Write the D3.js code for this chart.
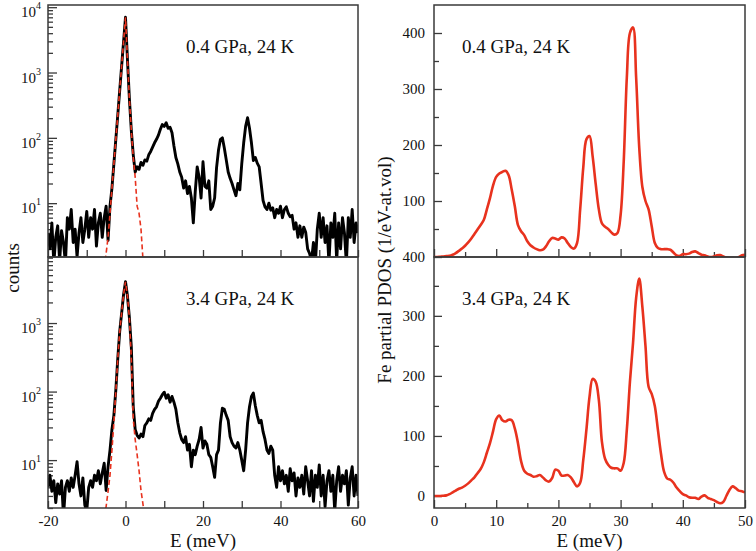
<!DOCTYPE html>
<html><head><meta charset="utf-8">
<script src="https://cdn.jsdelivr.net/npm/d3@7"></script>
<style>html,body{margin:0;padding:0;background:#fff}svg{display:block}</style>
</head><body><svg id="c" width="756" height="551"></svg>
<script>
// ---------------- DATA ----------------
// Left panels: NRIXS counts vs E (meV), sampled every 0.5 meV from -20 to 60
const countsEnergy = d3.range(0, 161).map(i => -20 + i * 0.5);
const countsLow = [ // 0.4 GPa, 24 K
  3.5, 2, 5, 1.2, 3, 4.5, 1.3, 3.8, 2.5, 1.2,
  6, 4, 8, 2.5, 4, 1.5, 3.5, 6, 2.5, 4,
  7.5, 3, 6, 4, 8, 2.2, 5, 7, 3, 6,
  9, 2.7, 9, 17, 40, 95, 220, 530, 1250, 2950,
  7000, 1600, 400, 130, 55, 30, 36, 33, 42, 38,
  46, 44, 55, 62, 72, 84, 95, 110, 135, 160,
  150, 170, 140, 145, 120, 75, 50, 40, 30, 25,
  17, 22, 14, 18, 12, 5, 15, 36, 25, 12,
  43, 18, 17, 22, 8, 9, 12, 35, 65, 95,
  100, 70, 46, 30, 24, 20, 16, 13, 20, 16,
  40, 84, 150, 203, 140, 84, 45, 50, 41, 36,
  20, 11, 8.8, 8, 10, 7.8, 8.5, 6, 8, 7,
  9, 6, 8, 8.8, 7, 6.2, 6.5, 4, 5, 3,
  4.5, 3, 4.3, 3.6, 2, 1.7, 1.3, 2.5, 1.2, 4,
  7, 3, 6, 2.5, 4.5, 1.2, 5, 3, 7, 1.3,
  5, 2, 6, 3.5, 1.2, 6, 3, 8, 2.5, 5,
  3.5
];
const countsHigh = [ // 3.4 GPa, 24 K
  4, 6, 3.5, 5, 2.4, 4.5, 3.2, 5, 1.5, 4,
  5, 3.5, 5.5, 4, 6, 9.5, 4.5, 3, 5.5, 2.2,
  1.8, 4, 5, 4, 6, 5, 7, 4.5, 6.5, 9,
  3.6, 8, 14, 28, 45, 105, 300, 750, 1400, 2600,
  4000, 2500, 1200, 450, 60, 28, 23, 21, 24, 22,
  32, 35, 40, 38, 48, 55, 60, 72, 80, 90,
  98, 80, 90, 70, 85, 70, 55, 35, 25, 20,
  18, 22, 14, 17, 8, 14, 12, 16, 20, 30,
  15, 19, 17, 12, 11, 8, 5.6, 12, 14, 35,
  57, 55, 45, 38, 22, 18, 16, 15, 18, 14,
  10, 7, 14, 35, 60, 85, 95, 62, 45, 35,
  38, 26, 20, 14, 12.5, 16, 14, 6, 4, 8,
  5, 7, 4.5, 6, 3.5, 7.5, 5, 6.5, 3, 5.5,
  4, 6, 3.2, 8, 5, 3, 7, 2.5, 6, 4,
  8.5, 3, 6, 2.1, 5, 7, 3.5, 6, 1.8, 5,
  8, 3.5, 6, 4.5, 7, 2.2, 5.5, 8, 3, 6,
  3
];
// Resolution function (red dashed), E from -5.5 to 5 meV
const resolutionEnergy = d3.range(0, 22).map(i => -5.5 + i * 0.5);
const resolutionLow = [1.0, 1.7, 3, 7, 17, 40, 95, 220, 530, 1250, 2950,
  7000, 1600, 400, 130, 50, 25, 9, 7, 4, 1.4, 0.8];
const resolutionHigh = [1.5, 2.1, 3.5, 6, 14, 35, 100, 300, 750, 1400, 2600,
  4000, 2500, 1200, 300, 40, 20, 12, 7, 3.6, 2.3, 1.4];

// Right panels: Fe partial PDOS vs E (meV), every 0.5 meV from 0 to 50
const pdosEnergy = d3.range(0, 101).map(i => i * 0.5);
const pdosLow = [
  0, 0, 0.5, 1, 1.5, 2, 4, 7, 11, 15,
  20, 26, 33, 41, 49, 57, 66, 85, 105, 128,
  143, 149, 152, 154, 146, 120, 90, 57, 46, 39,
  28, 21, 17, 14, 12, 13, 19, 28, 34, 33,
  31, 35, 33, 25, 18, 15, 25, 85, 160, 210,
  216, 180, 130, 85, 60, 54, 50, 44, 40, 43,
  75, 170, 320, 400, 410, 320, 195, 125, 100, 85,
  55, 25, 16, 14, 14, 14, 13, 8, 3, 2,
  5, 5, 6, 9, 10, 7, 4, 3, 1, 0,
  1, 3, 3.5, 1, -1, -2, -2, -2, 0, 3,
  4
];
const pdosHigh = [
  0, 0, 0, 0.5, 1, 3, 6, 9, 12, 14,
  17, 21, 26, 31, 38, 45, 56, 72, 88, 108,
  128, 134, 126, 124, 127, 126, 112, 88, 58, 42,
  37, 35, 32, 33, 35, 31, 26, 24, 30, 44,
  42, 34, 34, 35, 31, 23, 16, 22, 60, 110,
  165, 195, 190, 160, 90, 62, 52, 47, 46, 46,
  42, 55, 110, 190, 255, 330, 362, 315, 250, 182,
  170, 150, 110, 70, 40, 29, 27, 22, 14, 8,
  3, 1, -2, -3, -3, -5, -1, 1, -3, -5,
  -7, -10, -12, -10, 0, 10, 16, 13, 9, 8,
  6
];

// Tick values / labels
const leftXTicks = [-20, -10, 0, 10, 20, 30, 40, 50, 60];
const leftXLabelTicks = [-20, 0, 20, 40, 60];
const leftXTickLabels = ["-20", "0", "20", "40", "60"];
const logMajorTop = [10, 100, 1000, 10000];
const logExpTop = ["1", "2", "3", "4"];
const logMajorBottom = [10, 100, 1000];
const logExpBottom = ["1", "2", "3"];
const rightXMajor = [0, 10, 20, 30, 40, 50];
const rightXMinor = [5, 15, 25, 35, 45];
const rightXTickLabels = ["0", "10", "20", "30", "40", "50"];
const rightTopYMajor = [0, 100, 200, 300, 400];
const rightTopYTickLabels = ["400", "100", "200", "300", "400"];
const rightTopYMinor = [50, 150, 250, 350];
const rightBotYMajor = [0, 100, 200, 300];
const rightBotYTickLabels = ["0", "100", "200", "300"];
const rightBotYMinor = [50, 150, 250, 350];
const panelLabels = ["0.4 GPa, 24 K", "3.4 GPa, 24 K"];

// ---------------- DRAW ----------------
const svg = d3.select("#c");
const FONT = "'Liberation Serif','DejaVu Serif',serif";
const RED = "#e8321e";
const FRAME = "#3a3a3a";

const LX = [48, 358], RX = [434, 745];
const TY = [5, 257], BY = [257, 508];

const xL = d3.scaleLinear().domain([-20, 60]).range(LX);
const xR = d3.scaleLinear().domain([0, 50]).range(RX);
const yLT = d3.scaleLog().domain([1.5, 10800]).range([TY[1], TY[0]]);
const yLB = d3.scaleLog().domain([2.0, 9200]).range([BY[1], BY[0]]);
const yRT = d3.scaleLinear().domain([0, 450]).range([TY[1], TY[0]]);
const yRB = d3.scaleLinear().domain([-20, 398]).range([BY[1], BY[0]]);

const defs = svg.append("defs");
function clip(id, x, y) {
  defs.append("clipPath").attr("id", id).append("rect")
    .attr("x", x[0]).attr("y", y[0]).attr("width", x[1] - x[0]).attr("height", y[1] - y[0]);
  return `url(#${id})`;
}

function styleAxis(g) {
  g.select(".domain").remove();
  g.selectAll(".tick line").attr("stroke", FRAME).attr("stroke-width", 1.3);
  g.selectAll("text").attr("font-family", FONT).attr("font-size", 15).attr("fill", "#111");
}

function minorLog(scale) {
  const [a, b] = scale.domain();
  const out = [];
  [1, 10, 100, 1000].forEach(d => { for (let m = 2; m <= 9; m++) { const v = d * m; if (v >= a && v <= b) out.push(v); } });
  return out;
}

function leftPanel(yScale, Y, counts, resE, res, majors, exps, showXLabels, label, id) {
  const cp = clip(id, LX, Y);
  const g = svg.append("g");
  g.append("g").attr("transform", `translate(${LX[0]},0)`)
    .call(d3.axisLeft(yScale).tickValues(majors).tickSize(-9).tickFormat(""))
    .call(styleAxis);
  g.append("g").attr("transform", `translate(${LX[0]},0)`)
    .call(d3.axisLeft(yScale).tickValues(minorLog(yScale)).tickSize(-5).tickFormat(""))
    .call(styleAxis);
  majors.forEach((v, i) => {
    const t = g.append("text").attr("x", 41).attr("y", yScale(v) + 10)
      .attr("text-anchor", "end").attr("font-family", FONT).attr("font-size", 15).attr("fill", "#111");
    t.append("tspan").text("10");
    t.append("tspan").attr("dy", -8).attr("font-size", 10).text(exps[i]);
  });
  g.append("g").attr("transform", `translate(0,${Y[1]})`)
    .call(d3.axisBottom(xL).tickValues(leftXTicks).tickSize(-7).tickFormat(""))
    .call(styleAxis);
  if (showXLabels) {
    g.append("g").attr("transform", `translate(0,${Y[1]})`)
      .call(d3.axisBottom(xL).tickValues(leftXLabelTicks).tickSize(0).tickPadding(7)
        .tickFormat((d, i) => leftXTickLabels[i]))
      .call(styleAxis);
  }
  const pts = countsEnergy.map((e, i) => [e, counts[i]]);
  g.append("path").datum(pts).attr("clip-path", cp)
    .attr("fill", "none").attr("stroke", "#000").attr("stroke-width", 2.9)
    .attr("stroke-linejoin", "round")
    .attr("d", d3.line().x(d => xL(d[0])).y(d => yScale(d[1])));
  const rp = resE.map((e, i) => [e, res[i]]);
  g.append("path").datum(rp).attr("clip-path", cp)
    .attr("fill", "none").attr("stroke", RED).attr("stroke-width", 1.6)
    .attr("stroke-dasharray", "5,3")
    .attr("d", d3.line().x(d => xL(d[0])).y(d => yScale(d[1])));
  g.append("rect").attr("x", LX[0]).attr("y", Y[0]).attr("width", LX[1] - LX[0]).attr("height", Y[1] - Y[0])
    .attr("fill", "none").attr("stroke", FRAME).attr("stroke-width", 1.5);
  g.append("text").attr("x", 186).attr("y", Y[0] + 48).attr("font-family", FONT).attr("font-size", 19)
    .attr("fill", "#111").text(label);
}

function rightPanel(yScale, Y, vals, majors, majorLabels, minors, showXLabels, label, id) {
  const cp = clip(id, RX, Y);
  const g = svg.append("g");
  g.append("g").attr("transform", `translate(${RX[0]},0)`)
    .call(d3.axisLeft(yScale).tickValues(majors).tickSize(-8).tickPadding(9)
      .tickFormat((d, i) => majorLabels[i]))
    .call(styleAxis);
  g.append("g").attr("transform", `translate(${RX[0]},0)`)
    .call(d3.axisLeft(yScale).tickValues(minors).tickSize(-5).tickFormat(""))
    .call(styleAxis);
  g.append("g").attr("transform", `translate(0,${Y[1]})`)
    .call(d3.axisBottom(xR).tickValues(rightXMajor).tickSize(-8).tickPadding(7)
      .tickFormat((d, i) => showXLabels ? rightXTickLabels[i] : ""))
    .call(styleAxis);
  g.append("g").attr("transform", `translate(0,${Y[1]})`)
    .call(d3.axisBottom(xR).tickValues(rightXMinor).tickSize(-5).tickFormat(""))
    .call(styleAxis);
  const pts = pdosEnergy.map((e, i) => [e, vals[i]]);
  g.append("path").datum(pts).attr("clip-path", cp)
    .attr("fill", "none").attr("stroke", RED).attr("stroke-width", 2.6)
    .attr("stroke-linejoin", "round")
    .attr("d", d3.line().curve(d3.curveCatmullRom.alpha(0.5)).x(d => xR(d[0])).y(d => yScale(d[1])));
  g.append("rect").attr("x", RX[0]).attr("y", Y[0]).attr("width", RX[1] - RX[0]).attr("height", Y[1] - Y[0])
    .attr("fill", "none").attr("stroke", FRAME).attr("stroke-width", 1.5);
  g.append("text").attr("x", 462).attr("y", Y[0] + 48).attr("font-family", FONT).attr("font-size", 19)
    .attr("fill", "#111").text(label);
}

leftPanel(yLT, TY, countsLow, resolutionEnergy, resolutionLow, logMajorTop, logExpTop, false, panelLabels[0], "clt");
leftPanel(yLB, BY, countsHigh, resolutionEnergy, resolutionHigh, logMajorBottom, logExpBottom, true, panelLabels[1], "clb");
rightPanel(yRT, TY, pdosLow, rightTopYMajor, rightTopYTickLabels, rightTopYMinor, false, panelLabels[0], "crt");
rightPanel(yRB, BY, pdosHigh, rightBotYMajor, rightBotYTickLabels, rightBotYMinor, true, panelLabels[1], "crb");

svg.append("text").attr("x", (LX[0] + LX[1]) / 2).attr("y", 547).attr("text-anchor", "middle")
  .attr("font-family", FONT).attr("font-size", 19).attr("fill", "#111").text("E (meV)");
svg.append("text").attr("x", (RX[0] + RX[1]) / 2).attr("y", 547).attr("text-anchor", "middle")
  .attr("font-family", FONT).attr("font-size", 19).attr("fill", "#111").text("E (meV)");
svg.append("text").attr("transform", "translate(19,268) rotate(-90)").attr("text-anchor", "middle")
  .attr("font-family", FONT).attr("font-size", 19).attr("fill", "#111").text("counts");
svg.append("text").attr("transform", "translate(391,270) rotate(-90)").attr("text-anchor", "middle")
  .attr("font-family", FONT).attr("font-size", 19).attr("fill", "#111").text("Fe partial PDOS (1/eV-at.vol)");
</script></body></html>
